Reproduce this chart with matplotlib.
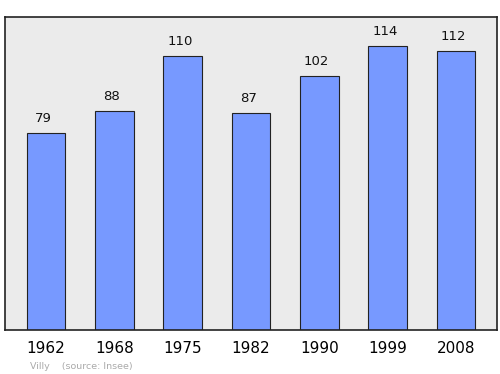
import matplotlib.pyplot as plt

years = ["1962", "1968", "1975", "1982", "1990", "1999", "2008"]
population = [79, 88, 110, 87, 102, 114, 112]

fig = plt.figure(figsize=(5, 3.74), dpi=100)
ax = fig.add_axes([0.01, 0.1176, 0.984, 0.837])
ax.set_facecolor("#ebebeb")

x = range(len(years))
ax.bar(x, population, width=0.57, color="#7799ff", edgecolor="#222222", linewidth=0.8)
for xi, v in zip(x, population):
    ax.text(xi - 0.04, v + 3.2, str(v), ha="center", va="bottom", fontsize=9.5, color="#111111")

ax.set_xlim(-0.6, 6.6)
ax.set_ylim(0, 125.7)
ax.set_xticks(list(x))
ax.set_xticklabels(years, fontsize=11)
ax.tick_params(axis="x", length=0, pad=8)
ax.set_yticks([])
for s in ax.spines.values():
    s.set_linewidth(1.2)
    s.set_color("#222222")

fig.text(0.06, 0.014, "Villy    (source: Insee)", fontsize=6.8, color="#aaaaaa")

fig.savefig("out.png", dpi=100)
